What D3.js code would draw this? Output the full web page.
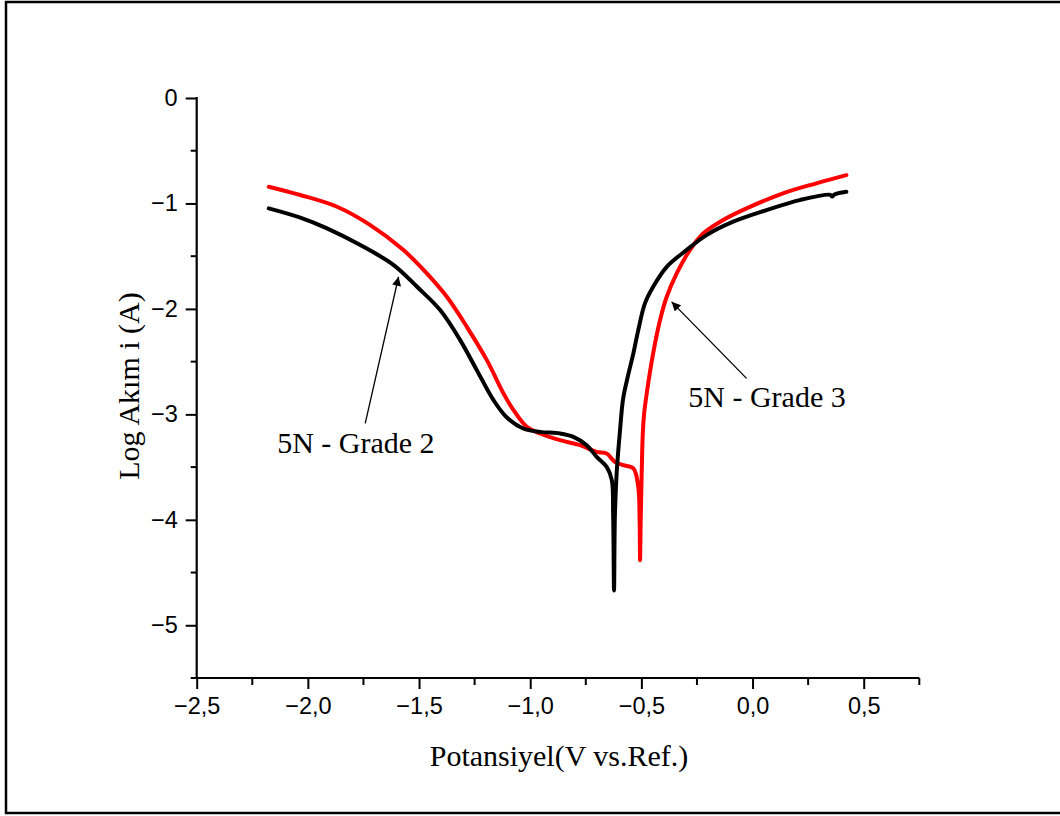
<!DOCTYPE html>
<html>
<head>
<meta charset="utf-8">
<script src="https://cdn.jsdelivr.net/npm/d3@7"></script>
<style>
	body { margin: 0; background: #fff; }
	svg { display: block; }
	.tick text { font-family: "Liberation Sans", Arial, sans-serif; font-size: 23.5px; fill: #000; }
	.titre { font-family: "Liberation Serif", "Times New Roman", serif; font-size: 30px; fill: #000; }
</style>
</head>
<body>
<div id="chart"></div>
<script>
// donnees (potentiel V, log i)
var grade2X = [-2.176, -2.034, -1.914, -1.764, -1.614, -1.509, -1.405, -1.315, -1.240, -1.165, -1.105, -1.031, -0.956, -0.866, -0.806, -0.746, -0.701, -0.656, -0.633, -0.627, -0.623, -0.619, -0.611, -0.596, -0.582, -0.562, -0.536, -0.514, -0.484, -0.447, -0.386, -0.297, -0.207, -0.087, 0.063, 0.212, 0.350, 0.358, 0.368, 0.422];
var grade2Y = [-1.047, -1.135, -1.237, -1.395, -1.584, -1.790, -2.011, -2.296, -2.581, -2.865, -3.030, -3.134, -3.166, -3.181, -3.213, -3.292, -3.403, -3.498, -3.624, -3.950, -4.670, -3.950, -3.550, -3.150, -2.850, -2.650, -2.422, -2.201, -1.948, -1.790, -1.601, -1.442, -1.300, -1.173, -1.063, -0.968, -0.918, -0.935, -0.915, -0.889];

var grade3X = [-2.176, -2.034, -1.869, -1.719, -1.570, -1.465, -1.375, -1.285, -1.195, -1.120, -1.075, -1.015, -0.956, -0.866, -0.776, -0.701, -0.656, -0.619, -0.581, -0.536, -0.514, -0.508, -0.506, -0.503, -0.499, -0.494, -0.488, -0.476, -0.447, -0.416, -0.386, -0.341, -0.282, -0.222, -0.132, -0.027, 0.137, 0.287, 0.422];
var grade3Y = [-0.841, -0.920, -1.031, -1.205, -1.442, -1.663, -1.885, -2.170, -2.486, -2.802, -2.960, -3.119, -3.181, -3.245, -3.292, -3.356, -3.371, -3.451, -3.482, -3.513, -3.688, -4.000, -4.383, -4.000, -3.600, -3.200, -3.000, -2.802, -2.422, -2.106, -1.885, -1.663, -1.442, -1.284, -1.157, -1.047, -0.904, -0.809, -0.731];

var xTicks = [-2.5, -2.0, -1.5, -1.0, -0.5, 0.0, 0.5];
var xMinor = [-2.25, -1.75, -1.25, -0.75, -0.25, 0.25, 0.75];
var yTicks = [0, -1, -2, -3, -4, -5];
var yMinor = [-0.5, -1.5, -2.5, -3.5, -4.5, -5.5];

// annotations : texte, position du texte, queue et pointe de la fleche
var etiquettes = ["5N - Grade 2", "5N - Grade 3"];
var etiquetteX = [-2.138, -0.289];
var etiquetteY = [-3.368, -2.929];
var flecheDe = [[-1.742, -3.086], [-0.027, -2.659]];
var flecheA = [[-1.592, -1.695], [-0.364, -1.933]];

var width = 1060,
	height = 816;

var svg = d3.select("#chart").append("svg")
	.attr("width", width)
	.attr("height", height);

// cadre
svg.append("rect")
	.attr("x", 6).attr("y", 2)
	.attr("width", 1070).attr("height", 811)
	.attr("fill", "#fff")
	.attr("stroke", "#000")
	.attr("stroke-width", 2.5);

var x = d3.scaleLinear().domain([-2.5, 0.75]).range([196.7, 919.3]);
var y = d3.scaleLinear().domain([-5.5, 0]).range([678, 98]);

function virgule(d) {
	return d3.format(".1f")(d).replace(".", ",");
}

// axe x
var axeX = svg.append("g")
	.attr("transform", "translate(0," + y(-5.5) + ")")
	.call(d3.axisBottom(x).tickValues(xTicks).tickFormat(virgule).tickSize(11).tickPadding(8));
axeX.append("g").selectAll("line").data(xMinor).enter().append("line")
	.attr("x1", function (d) { return x(d); })
	.attr("x2", function (d) { return x(d); })
	.attr("y1", 0).attr("y2", 7)
	.attr("stroke", "#000").attr("stroke-width", 2);

// axe y
var axeY = svg.append("g")
	.attr("transform", "translate(" + x(-2.5) + ",0)")
	.call(d3.axisLeft(y).tickValues(yTicks).tickFormat(d3.format("d")).tickSize(11).tickPadding(8));
axeY.append("g").selectAll("line").data(yMinor).enter().append("line")
	.attr("y1", function (d) { return y(d); })
	.attr("y2", function (d) { return y(d); })
	.attr("x1", 0).attr("x2", -6)
	.attr("stroke", "#000").attr("stroke-width", 2);

axeX.select(".domain").remove();
axeY.select(".domain").remove();
svg.selectAll(".tick line").attr("stroke-width", 2);

// lignes des axes
svg.append("line")
	.attr("x1", x(-2.5)).attr("x2", x(0.75))
	.attr("y1", y(-5.5)).attr("y2", y(-5.5))
	.attr("stroke", "#000").attr("stroke-width", 2.2);
svg.append("line")
	.attr("x1", x(-2.5)).attr("x2", x(-2.5))
	.attr("y1", y(-5.5) + 1).attr("y2", y(0) - 1)
	.attr("stroke", "#000").attr("stroke-width", 2.2);

// courbes
var ligne = d3.line()
	.x(function (d) { return x(d[0]); })
	.y(function (d) { return y(d[1]); })
	.curve(d3.curveCatmullRom.alpha(0.5));

var series = [
	{ xs: grade3X, ys: grade3Y, couleur: "#ff0000" },
	{ xs: grade2X, ys: grade2Y, couleur: "#000000" }
];

series.forEach(function (s) {
	var pts = s.xs.map(function (v, i) { return [v, s.ys[i]]; });
	svg.append("path")
		.datum(pts)
		.attr("fill", "none")
		.attr("stroke", s.couleur)
		.attr("stroke-width", 4)
		.attr("stroke-linejoin", "round")
		.attr("stroke-linecap", "round")
		.attr("d", ligne);
});

// fleches
svg.append("defs").append("marker")
	.attr("id", "pointe")
	.attr("viewBox", "0 0 10 10")
	.attr("refX", 10).attr("refY", 5)
	.attr("markerUnits", "userSpaceOnUse")
	.attr("markerWidth", 16).attr("markerHeight", 9)
	.attr("orient", "auto")
	.append("path")
	.attr("d", "M0,0 L10,5 L0,10 Z")
	.attr("fill", "#000");

etiquettes.forEach(function (t, i) {
	svg.append("line")
		.attr("x1", x(flecheDe[i][0])).attr("y1", y(flecheDe[i][1]))
		.attr("x2", x(flecheA[i][0])).attr("y2", y(flecheA[i][1]))
		.attr("stroke", "#000").attr("stroke-width", 1.3)
		.attr("marker-end", "url(#pointe)");
	svg.append("text")
		.attr("class", "titre")
		.attr("x", x(etiquetteX[i]))
		.attr("y", y(etiquetteY[i]))
		.text(t);
});

// titres des axes
svg.append("text")
	.attr("class", "titre")
	.attr("text-anchor", "middle")
	.attr("x", 559).attr("y", 766)
	.text("Potansiyel(V vs.Ref.)");

svg.append("text")
	.attr("class", "titre")
	.attr("text-anchor", "middle")
	.attr("transform", "translate(139,386) rotate(-90)")
	.text("Log Akım i (A)");
</script>
</body>
</html>
